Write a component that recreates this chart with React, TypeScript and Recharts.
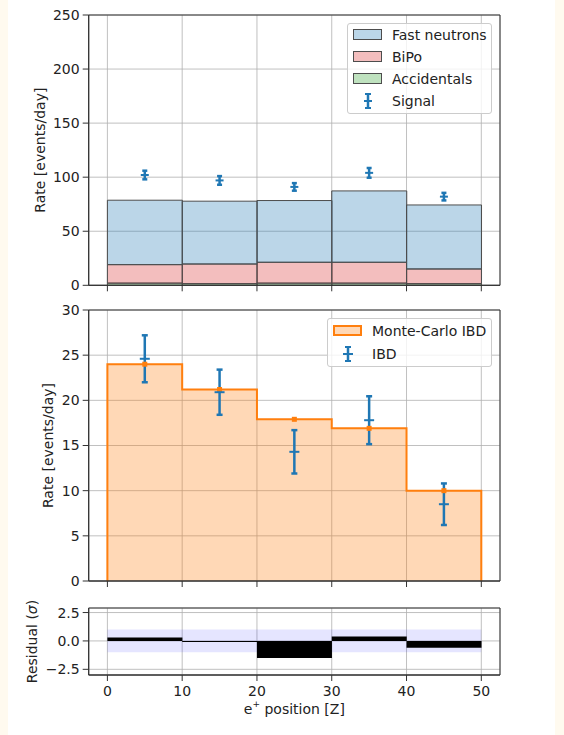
import React from 'react';
import {
  ComposedChart,
  Bar,
  Area,
  Scatter,
  ErrorBar,
  XAxis,
  YAxis,
  CartesianGrid,
  ReferenceArea,
  Legend,
  Label,
} from 'recharts';

// ---------- data ----------
const binCenters = [5, 15, 25, 35, 45];
const binEdges = [0, 10, 20, 30, 40, 50];
const xTicks = [0, 10, 20, 30, 40, 50];

// top panel (stacked backgrounds + signal)
const accidentals = [2, 1.5, 2, 2, 1.5];
const bipo = [17.1, 18.2, 19.3, 19.3, 13.6];
const fastNeutrons = [59.6, 58.1, 57.1, 66.0, 59.2];
const signal = [102, 97, 91, 104, 82];
const signalErr = [4, 4, 3.5, 4.5, 3.5];
const topTicks = [0, 50, 100, 150, 200, 250];

// middle panel
const mcIBD = [24.0, 21.2, 17.9, 16.9, 10.0];
const ibd = [24.6, 20.9, 14.3, 17.8, 8.5];
const ibdErr = [2.6, 2.5, 2.4, 2.65, 2.3];
const midTicks = [0, 5, 10, 15, 20, 25, 30];

// bottom panel
const residual = [0.3, -0.1, -1.5, 0.4, -0.6];
const resTicks = [-2.5, 0, 2.5];

// ---------- tables ----------
const topData = binCenters.map((x, i) => ({
  x,
  acc: accidentals[i],
  bipo: bipo[i],
  fast: fastNeutrons[i],
  signal: signal[i],
  signalErr: signalErr[i],
}));

const midData = binCenters.map((x, i) => ({
  x,
  mc: mcIBD[i],
  ibd: ibd[i],
  ibdErr: ibdErr[i],
}));

const mcStep = [
  { x: binEdges[0], y: 0 },
  ...binEdges.map((x, i) => ({ x, y: mcIBD[Math.min(i, mcIBD.length - 1)] })),
  { x: binEdges[binEdges.length - 1], y: 0 },
];

const resData = binCenters.map((x, i) => ({ x, res: residual[i] }));

// ---------- styling ----------
const X_DOMAIN: [number, number] = [-2.5, 52.5];
const FONT = '"DejaVu Sans", sans-serif';
const TXT = '#222222';
const SPINE = '#333333';
const GRID = '#b0b0b0';
const BLUE = '#1f77b4';
const ORANGE = '#ff7f0e';
const RED = '#d62728';
const GREEN = '#2ca02c';
const EDGE = '#4d4d4d';

const tickStyle = { fontSize: 14, fill: TXT, fontFamily: FONT };
const emptyTick = () => <g />;

const HTick = (w: number, color: string) => (props: any) => {
  const { cx, cy } = props;
  if (cx == null || cy == null) return <g />;
  return <line x1={cx - w} x2={cx + w} y1={cy} y2={cy} stroke={color} strokeWidth={2} />;
};

const SquareMarker = (props: any) => {
  const { cx, cy } = props;
  if (cx == null || cy == null) return <g />;
  return <rect x={cx - 2.5} y={cy - 2.5} width={5} height={5} fill={ORANGE} />;
};

const yLabel = (text: React.ReactNode, x: number) => (props: any) => {
  const vb = props.viewBox || {};
  const cy = (vb.y || 0) + (vb.height || 0) / 2;
  return (
    <text
      transform={`translate(${x}, ${cy}) rotate(-90)`}
      textAnchor="middle"
      dominantBaseline="central"
      fontSize={14}
      fill={TXT}
      fontFamily={FONT}
    >
      {text}
    </text>
  );
};

const xLabel = (props: any) => {
  const vb = props.viewBox || {};
  const cx = (vb.x || 0) + (vb.width || 0) / 2;
  const cy = (vb.y || 0) + 34;
  return (
    <text x={cx} y={cy} textAnchor="middle" dominantBaseline="central" fontSize={14} fill={TXT} fontFamily={FONT}>
      e
      <tspan fontSize={9} dy={-5}>+</tspan>
      <tspan dy={5}> position [Z]</tspan>
    </text>
  );
};

const ErrSymbol = ({ w = 10 }: { w?: number }) => (
  <svg width={30} height={20} style={{ display: 'block' }}>
    <line x1={15} x2={15} y1={3} y2={17} stroke={BLUE} strokeWidth={2.5} />
    <line x1={12} x2={18} y1={3} y2={3} stroke={BLUE} strokeWidth={2} />
    <line x1={12} x2={18} y1={17} y2={17} stroke={BLUE} strokeWidth={2} />
    <line x1={15 - w / 2} x2={15 + w / 2} y1={10} y2={10} stroke={BLUE} strokeWidth={2} />
  </svg>
);

const Patch = ({ fill, stroke, sw = 1 }: { fill: string; stroke: string; sw?: number }) => (
  <div
    style={{
      width: 29,
      height: 11,
      boxSizing: 'border-box',
      background: fill,
      border: `${sw}px solid ${stroke}`,
    }}
  />
);

const legendBox = (rows: { key: string; sym: React.ReactNode }[], rowH: number, padTop: number) => () => (
  <div
    style={{
      boxSizing: 'border-box',
      border: '1px solid #cccccc',
      borderRadius: 3,
      background: 'rgba(255,255,255,0.8)',
      paddingTop: padTop,
      paddingBottom: 1,
      fontFamily: FONT,
      fontSize: 14,
      color: TXT,
      textAlign: 'left',
    }}
  >
    {rows.map((r) => (
      <div key={r.key} style={{ display: 'flex', alignItems: 'center', height: rowH }}>
        <div style={{ width: 29, marginLeft: 5, marginRight: 10, display: 'flex', justifyContent: 'center' }}>{r.sym}</div>
        <span style={{ whiteSpace: 'nowrap' }}>{r.key}</span>
      </div>
    ))}
  </div>
);

const topLegend = legendBox(
  [
    { key: 'Fast neutrons', sym: <Patch fill="rgba(31,119,180,0.3)" stroke={EDGE} /> },
    { key: 'BiPo', sym: <Patch fill="rgba(214,39,40,0.3)" stroke={EDGE} /> },
    { key: 'Accidentals', sym: <Patch fill="rgba(44,160,44,0.3)" stroke={EDGE} /> },
    { key: 'Signal', sym: <ErrSymbol w={8} /> },
  ],
  22,
  0
);

const midLegend = legendBox(
  [
    { key: 'Monte-Carlo IBD', sym: <Patch fill="rgba(255,127,14,0.3)" stroke={ORANGE} sw={2} /> },
    { key: 'IBD', sym: <ErrSymbol w={10} /> },
  ],
  23,
  0
);

const resFmt = (v: number) => (v === 0 ? '0.0' : v < 0 ? '\u2212' + Math.abs(v).toFixed(1) : v.toFixed(1));

export default function App() {
  return (
    <div
      style={{
        position: 'absolute',
        left: 0,
        top: 0,
        width: 564,
        height: 735,
        background: '#fffaef',
        fontFamily: FONT,
        overflow: 'hidden',
      }}
    >
      <div style={{ position: 'absolute', left: 8, top: 0, width: 547, height: 735, background: '#ffffff' }} />

      {/* ---------- top panel ---------- */}
      <div style={{ position: 'absolute', left: 0, top: 0 }}>
        <ComposedChart
          width={564}
          height={300}
          data={topData}
          margin={{ top: 15, right: 64, bottom: 4.7, left: 28.7 }}
          barCategoryGap={0}
          barGap={0}
        >
          <CartesianGrid stroke={GRID} strokeWidth={0.8} />
          <XAxis
            dataKey="x"
            type="number"
            domain={X_DOMAIN}
            ticks={xTicks}
            height={10}
            tickSize={6}
            tick={emptyTick}
            stroke={SPINE}
            interval={0}
          />
          <YAxis
            type="number"
            domain={[0, 250]}
            ticks={topTicks}
            width={60}
            tickSize={6}
            tickMargin={3}
            tick={tickStyle}
            stroke={SPINE}
            interval={0}
          >
            <Label content={yLabel('Rate [events/day]', 40)} />
          </YAxis>
          <Bar dataKey="acc" stackId="bg" fill={GREEN} fillOpacity={0.3} stroke={EDGE} strokeWidth={1} isAnimationActive={false} />
          <Bar dataKey="bipo" stackId="bg" fill={RED} fillOpacity={0.3} stroke={EDGE} strokeWidth={1} isAnimationActive={false} />
          <Bar dataKey="fast" stackId="bg" fill={BLUE} fillOpacity={0.3} stroke={EDGE} strokeWidth={1} isAnimationActive={false} />
          <Scatter dataKey="signal" shape={HTick(4, BLUE)} isAnimationActive={false}>
            <ErrorBar dataKey="signalErr" direction="y" width={2.5} stroke={BLUE} strokeWidth={2.5} />
          </Scatter>
          <ReferenceArea x1={X_DOMAIN[0]} x2={X_DOMAIN[1]} y1={0} y2={250} fill="none" fillOpacity={0} stroke={SPINE} strokeWidth={1} />
          <Legend
            layout="vertical"
            verticalAlign="middle"
            align="center"
            content={topLegend}
            wrapperStyle={{ left: 347, top: 22.7, width: 145, right: 'auto', bottom: 'auto', margin: 0 }}
          />
        </ComposedChart>
      </div>

      {/* ---------- middle panel ---------- */}
      <div style={{ position: 'absolute', left: 0, top: 295 }}>
        <ComposedChart
          width={564}
          height={300}
          data={midData}
          margin={{ top: 15, right: 64, bottom: 4, left: 28.7 }}
        >
          <CartesianGrid stroke={GRID} strokeWidth={0.8} />
          <XAxis
            dataKey="x"
            type="number"
            domain={X_DOMAIN}
            ticks={xTicks}
            height={10}
            tickSize={6}
            tick={emptyTick}
            stroke={SPINE}
            interval={0}
          />
          <YAxis
            type="number"
            domain={[0, 30]}
            ticks={midTicks}
            width={60}
            tickSize={6}
            tickMargin={3}
            tick={tickStyle}
            stroke={SPINE}
            interval={0}
          >
            <Label content={yLabel('Rate [events/day]', 48)} />
          </YAxis>
          <Area
            data={mcStep}
            dataKey="y"
            type="stepAfter"
            fill={ORANGE}
            fillOpacity={0.3}
            stroke={ORANGE}
            strokeWidth={2}
            dot={false}
            activeDot={false}
            isAnimationActive={false}
          />
          <Scatter dataKey="mc" shape={SquareMarker} isAnimationActive={false} />
          <Scatter dataKey="ibd" shape={HTick(5, BLUE)} isAnimationActive={false}>
            <ErrorBar dataKey="ibdErr" direction="y" width={3} stroke={BLUE} strokeWidth={2.5} />
          </Scatter>
          <ReferenceArea x1={X_DOMAIN[0]} x2={X_DOMAIN[1]} y1={0} y2={30} fill="none" fillOpacity={0} stroke={SPINE} strokeWidth={1} />
          <Legend
            layout="vertical"
            verticalAlign="middle"
            align="center"
            content={midLegend}
            wrapperStyle={{ left: 327, top: 23.3, width: 165, right: 'auto', bottom: 'auto', margin: 0 }}
          />
        </ComposedChart>
      </div>

      {/* ---------- residual panel ---------- */}
      <div style={{ position: 'absolute', left: 0, top: 595 }}>
        <ComposedChart
          width={564}
          height={140}
          data={resData}
          margin={{ top: 13, right: 64, bottom: 20, left: 28.7 }}
          barCategoryGap={0}
          barGap={0}
        >
          <CartesianGrid stroke={GRID} strokeWidth={0.8} />
          <ReferenceArea x1={0} x2={50} y1={-1} y2={1} fill="#0000ff" fillOpacity={0.1} stroke="none" />
          <XAxis
            dataKey="x"
            type="number"
            domain={X_DOMAIN}
            ticks={xTicks}
            height={40}
            tickSize={6}
            tickMargin={5}
            tick={tickStyle}
            stroke={SPINE}
            interval={0}
          >
            <Label content={xLabel} />
          </XAxis>
          <YAxis
            type="number"
            domain={[-3, 2.9]}
            ticks={resTicks}
            width={60}
            tickSize={6}
            tickMargin={3}
            tick={tickStyle}
            tickFormatter={resFmt}
            stroke={SPINE}
            interval={0}
          >
            <Label
              content={yLabel(
                <>
                  Residual (<tspan fontStyle="italic">σ</tspan>)
                </>,
                32
              )}
            />
          </YAxis>
          <Bar dataKey="res" fill="#000000" isAnimationActive={false} />
          <ReferenceArea x1={X_DOMAIN[0]} x2={X_DOMAIN[1]} y1={-3} y2={2.9} fill="none" fillOpacity={0} stroke={SPINE} strokeWidth={1} />
        </ComposedChart>
      </div>
    </div>
  );
}
